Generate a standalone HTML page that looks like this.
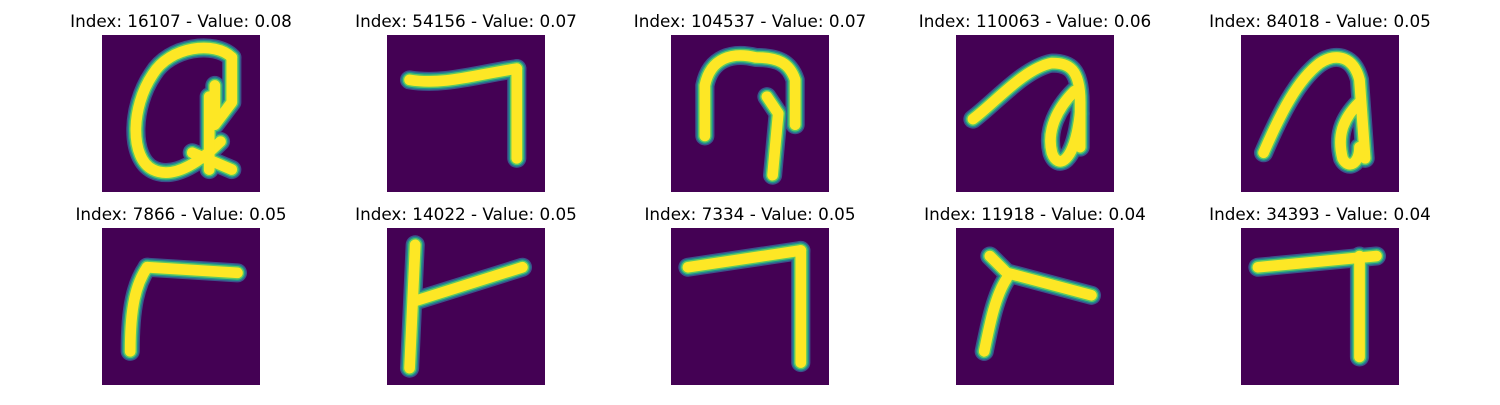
<!DOCTYPE html>
<html><head><meta charset="utf-8"><style>
body{margin:0;background:#fff;}
svg text{font-family:"DejaVu Sans","Liberation Sans",sans-serif;font-size:16.8px;fill:#000;}
</style></head><body>
<svg id="fig" width="1500" height="400" viewBox="0 0 1500 400" xmlns="http://www.w3.org/2000/svg">
<rect width="1500" height="400" fill="#fff"/>
</svg>
<script>
const indices = [16107, 54156, 104537, 110063, 84018, 7866, 14022, 7334, 11918, 34393];
const values = ["0.08", "0.07", "0.07", "0.06", "0.05", "0.05", "0.05", "0.05", "0.04", "0.04"];
const strokes = [
 ["M23,4 C20,1 12,2 9,7 C5,13 5,22 9,24 C13,26 18,22 21,19","M19,11 L19,24","M23,4 L23,12 L20,16","M16,21 L23,24","M20,9 L20,14"],
 ["M4,8 C10,9 16,7 23,6","M23,6 L23,22"],
 ["M6,18 L6,9 C7,4 11,3 15,4 C19,4 21,5 22,8 L22,16","M17,11 L19,14 L18,25"],
 ["M3,15 C7,12 12,6 17,5 C20,5 22,6 22,12 L22,20","M21,10 C18,13 16,17 17,21 C18,24 21,23 22,14"],
 ["M4,21 C7,14 10,8 14,5 C17,3 20,4 21,8 L22,22","M21,12 C18,15 17,18 18,22 C19,24 21,23 21,20"],
 ["M8,7 L24,8","M8,7 C6,10 5,14 5,22"],
 ["M5,3 L4,25","M5,13 L24,7"],
 ["M3,7 L23,4","M23,4 L23,24"],
 ["M6,5 L9,8 L24,12","M9,9 C7,12 6,17 5,22"],
 ["M3,7 L24,5","M21,5 L21,23"]
];
const svg = document.getElementById('fig');
const NS = "http://www.w3.org/2000/svg";
const colX = [102, 387, 671, 956, 1241];
const rowY = [35, 228];
const W = 158, H = 157;
const layers = [["#3b528b",3.4],["#21918c",2.9],["#5ec962",2.4],["#fde725",1.9]];
for (let i = 0; i < indices.length; i++) {
  const x = colX[i % 5], y = rowY[Math.floor(i / 5)];
  const t = document.createElementNS(NS, 'text');
  
  
  t.setAttribute('x', x + W / 2); t.setAttribute('y', y - 8);
  t.setAttribute('text-anchor', 'middle');
  t.textContent = "Index: " + indices[i] + " - Value: " + values[i];
  svg.appendChild(t);
  const g = document.createElementNS(NS, 'g');
  
  
  g.setAttribute('transform', 'translate(' + x + ',' + y + ') scale(' + (W/28) + ',' + (H/28) + ')');
  const bg = document.createElementNS(NS, 'rect');
  bg.setAttribute('width', 28); bg.setAttribute('height', 28); bg.setAttribute('fill', '#440154');
  g.appendChild(bg);
  layers.forEach(([c, w]) => {
    strokes[i].forEach(d => {
      const p = document.createElementNS(NS, 'path');
      p.setAttribute('d', d); p.setAttribute('fill', 'none');
      p.setAttribute('stroke', c); p.setAttribute('stroke-width', w);
      p.setAttribute('stroke-linecap', 'round'); p.setAttribute('stroke-linejoin', 'round');
      g.appendChild(p);
    });
  });
  svg.appendChild(g);
}
</script>
</body></html>
